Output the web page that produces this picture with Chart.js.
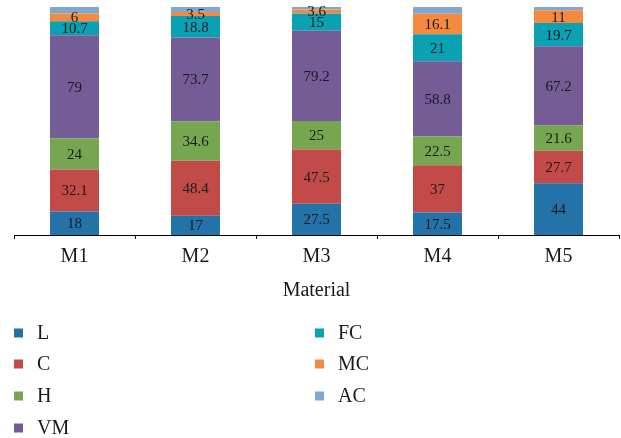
<!DOCTYPE html>
<html>
<head>
<meta charset="utf-8">
<script src="https://cdn.jsdelivr.net/npm/chart.js@4.4.0/dist/chart.umd.min.js"></script>
<style>
  html, body { margin: 0; padding: 0; background: #fff; }
  #wrap { width: 621px; height: 438px; }
</style>
</head>
<body>
<div id="wrap"><canvas id="chart"></canvas></div>
<script>
// Materials on the x axis
const materials = ['M1', 'M2', 'M3', 'M4', 'M5'];

// Raw values per component (AC)
const L = [18, 17, 27.5, 17.5, 44];
const C = [32.1, 48.4, 47.5, 37, 27.7];
const H = [24, 34.6, 25, 22.5, 21.6];
const VM = [79, 73.7, 79.2, 58.8, 67.2];
const FC = [10.7, 18.8, 15, 21, 19.7];
const MC = [6, 3.5, 3.6, 16.1, 11];
const AC = [4.9, 4.5, 2.2, 5.2, 2.7];

const seriesNames = ['L', 'C', 'H', 'VM', 'FC', 'MC', 'AC'];
const seriesValues = [L, C, H, VM, FC, MC, AC];
const seriesColors = ['#2372a8', '#c24b4a', '#76a650', '#745c96', '#0aa1b4', '#f48a3f', '#82a7ce'];
const labelled = [true, true, true, true, true, true, false];

const serif = "'Liberation Serif', 'DejaVu Serif', serif";

// 100% stacked: each bar is shown as share of its total
const totals = materials.map((m, i) => seriesValues.reduce((s, arr) => s + arr[i], 0));

const datasets = seriesNames.map((name, k) => ({
    label: name,
    data: seriesValues[k].map((v, i) => v / totals[i] * 100),
    raw: seriesValues[k],
    backgroundColor: seriesColors[k],
    borderWidth: 0,
    barPercentage: 0.405,
    categoryPercentage: 1,
    showValue: labelled[k],
}));

// Draw raw values in the middle of each segment
const valueLabels = {
    id: 'valueLabels',
    afterDatasetsDraw(chart) {
        const ctx = chart.ctx;
        ctx.save();
        ctx.font = '15px ' + serif;
        ctx.fillStyle = '#1a1a1a';
        ctx.textAlign = 'center';
        ctx.textBaseline = 'middle';
        chart.data.datasets.forEach((ds, k) => {
            if (!ds.showValue) return;
            chart.getDatasetMeta(k).data.forEach((bar, i) => {
                const mid = (bar.y + bar.base) / 2;
                ctx.fillText(String(ds.raw[i]), bar.x, mid + 1);
            });
        });
        ctx.restore();
    }
};

// Legend in two columns, filled top to bottom
const columnLegend = {
    id: 'columnLegend',
    afterDraw(chart) {
        const ctx = chart.ctx;
        const cols = [14, 315];
        const rowY = [333, 364, 396, 428];
        ctx.save();
        ctx.font = '20px ' + serif;
        ctx.textAlign = 'left';
        ctx.textBaseline = 'alphabetic';
        chart.data.datasets.forEach((ds, k) => {
            const col = k < 4 ? 0 : 1;
            const row = k < 4 ? k : k - 4;
            const x = cols[col];
            const y = rowY[row];
            ctx.fillStyle = ds.backgroundColor;
            ctx.fillRect(x, y - 4.5, 9, 9);
            ctx.fillStyle = '#1a1a1a';
            ctx.fillText(ds.label, x + 23, y + 6);
        });
        ctx.restore();
    }
};

new Chart(document.getElementById('chart'), {
    type: 'bar',
    data: {
        labels: materials,
        datasets: datasets,
    },
    options: {
        responsive: true,
        maintainAspectRatio: false,
        animation: false,
        layout: {
            padding: { left: 14, right: 2, top: 7, bottom: 135 },
        },
        plugins: {
            legend: { display: false },
            tooltip: { enabled: false },
        },
        scales: {
            x: {
                stacked: true,
                grid: {
                    display: true,
                    offset: true,
                    drawOnChartArea: false,
                    drawTicks: true,
                    tickLength: 4,
                    color: '#000',
                },
                border: { display: true, color: '#000', width: 1 },
                ticks: {
                    color: '#1a1a1a',
                    font: { family: serif, size: 20 },
                    padding: 6,
                },
                title: {
                    display: true,
                    text: 'Material',
                    color: '#1a1a1a',
                    font: { family: serif, size: 20 },
                    padding: { top: 4, bottom: 0 },
                },
            },
            y: {
                stacked: true,
                display: false,
                min: 0,
                max: 100,
            },
        },
    },
    plugins: [valueLabels, columnLegend],
});
</script>
</body>
</html>
